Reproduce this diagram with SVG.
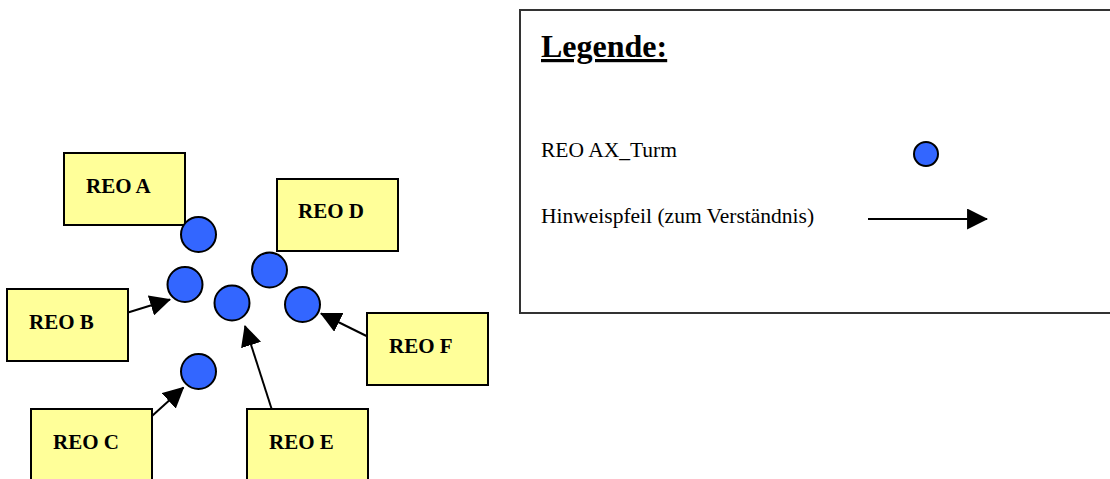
<svg xmlns="http://www.w3.org/2000/svg" width="1110" height="479" viewBox="0 0 1110 479">
<defs>
<style>
.box{fill:#FFFF99;stroke:#000;stroke-width:2}
.lbl{font-family:"Liberation Serif","Times New Roman",serif;font-weight:bold;font-size:21px;fill:#000}
.tower{fill:#3366FF;stroke:#000;stroke-width:2}
.arr{stroke:#000;stroke-width:2;fill:none;marker-end:url(#ah)}
.txt{font-family:"Liberation Serif","Times New Roman",serif;font-size:21.5px;fill:#000}
</style>
<marker id="ah" viewBox="0 0 10 10" refX="9.5" refY="5" markerWidth="10.5" markerHeight="10.5" orient="auto" markerUnits="strokeWidth">
<path d="M0,0 L10,5 L0,10 z" fill="#000"/>
</marker>
</defs>
<rect width="1110" height="479" fill="#fff"/>
<g id="legend">
<rect x="520" y="10" width="600" height="303" fill="#fff" stroke="#333" stroke-width="2"/>
<text x="541" y="57" style="font-family:'Liberation Serif','Times New Roman',serif;font-weight:bold;font-size:32px;text-decoration:underline" fill="#000">Legende:</text>
<text class="txt" x="541" y="157">REO AX_Turm</text>
<circle cx="926" cy="154" r="12" class="tower" stroke-width="1.8"/>
<text class="txt" x="541" y="223">Hinweispfeil (zum Verständnis)</text>
<line x1="868" y1="219" x2="987" y2="219" class="arr" stroke-width="2.2"/>
</g>
<g id="reoA"><rect class="box" x="64" y="153" width="121" height="72"/><text class="lbl" x="86" y="193">REO A</text></g>
<g id="reoD"><rect class="box" x="277" y="179" width="121" height="72"/><text class="lbl" x="298" y="218">REO D</text></g>
<g id="reoB"><rect class="box" x="7" y="289" width="121" height="72"/><text class="lbl" x="29" y="329">REO B</text></g>
<g id="reoF"><rect class="box" x="367" y="313" width="121" height="72"/><text class="lbl" x="389" y="353">REO F</text></g>
<g id="reoC"><rect class="box" x="31" y="409" width="121" height="72"/><text class="lbl" x="53" y="449">REO C</text></g>
<g id="reoE"><rect class="box" x="247" y="409" width="121" height="72"/><text class="lbl" x="269" y="449">REO E</text></g>
<g id="towers">
<circle id="t1" class="tower" cx="198.5" cy="234.5" r="17.5"/>
<circle id="t2" class="tower" cx="185" cy="284.5" r="17.5"/>
<circle id="t3" class="tower" cx="232" cy="303" r="17.5"/>
<circle id="t4" class="tower" cx="269.5" cy="270" r="17.5"/>
<circle id="t5" class="tower" cx="302.5" cy="304.5" r="17.5"/>
<circle id="t6" class="tower" cx="198.5" cy="371.5" r="17.5"/>
</g>
<g id="connectors">
<line class="arr" x1="128" y1="312.5" x2="170" y2="299.5"/>
<line class="arr" x1="367.5" y1="336.5" x2="321" y2="313.5"/>
<line class="arr" x1="271.5" y1="408.5" x2="245" y2="326"/>
<line class="arr" x1="152" y1="416" x2="183.5" y2="387.5"/>
</g>
</svg>
